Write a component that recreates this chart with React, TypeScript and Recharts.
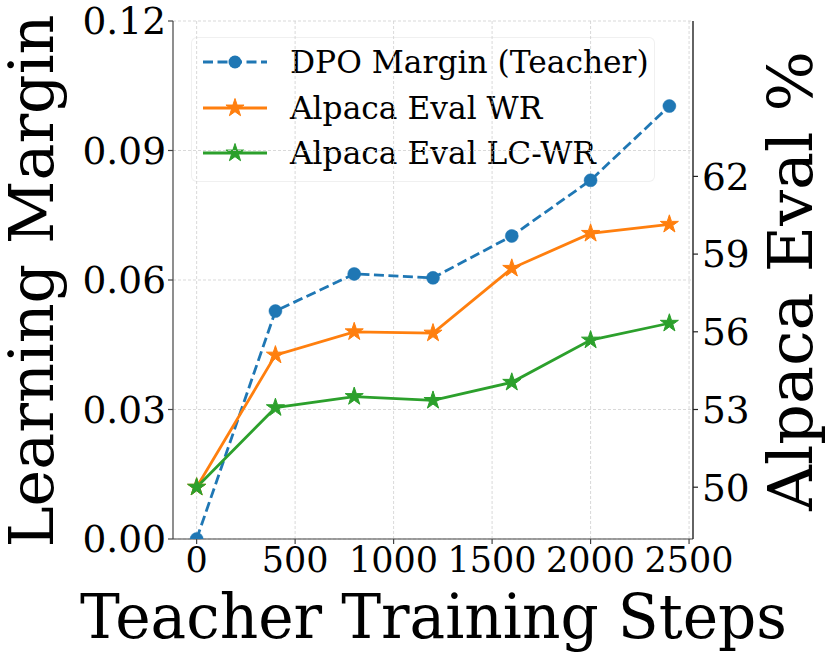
import React from 'react';
import { ComposedChart, Line, XAxis, YAxis, CartesianGrid, Legend } from 'recharts';

const steps = [0, 400, 800, 1200, 1600, 2000, 2400];
const dpoMargin = [0.0, 0.0528, 0.0614, 0.0605, 0.0702, 0.0831, 0.1003];
const alpacaWR = [50.0, 55.1, 56.0, 55.95, 58.45, 59.8, 60.15];
const alpacaLCWR = [50.0, 53.07, 53.5, 53.35, 54.05, 55.68, 56.33];

const xTicks = [0, 500, 1000, 1500, 2000, 2500];
const leftTicks = [0, 0.03, 0.06, 0.09, 0.12];
const rightTicks = [50, 53, 56, 59, 62];

const seriesNames = ['DPO Margin (Teacher)', 'Alpaca Eval WR', 'Alpaca Eval LC-WR'];
const colors = ['#1f77b4', '#ff7f0e', '#2ca02c'];

const data = steps.map((s, i) => ({
  step: s,
  dpo: dpoMargin[i],
  wr: alpacaWR[i],
  lc: alpacaLCWR[i],
}));

const FONT = 'DejaVu Serif';

function starPath(cx: number, cy: number, R: number) {
  const r = R * 0.381966;
  let d = '';
  for (let k = 0; k < 10; k++) {
    const rad = k % 2 === 0 ? R : r;
    const a = -Math.PI / 2 + (k * Math.PI) / 5;
    const x = cx + rad * Math.cos(a);
    const y = cy + rad * Math.sin(a);
    d += (k === 0 ? 'M' : 'L') + x.toFixed(2) + ',' + y.toFixed(2);
  }
  return d + 'Z';
}

const makeStar = (color: string) => (props: any) => {
  const { cx, cy, index } = props;
  if (cx == null || cy == null) return <g key={`s-${index}`} />;
  return <path key={`s-${index}`} d={starPath(cx, cy, 9.5)} fill={color} stroke={color} strokeWidth={1} />;
};

const makeCircle = (color: string) => (props: any) => {
  const { cx, cy, index } = props;
  if (cx == null || cy == null) return <g key={`c-${index}`} />;
  return <circle key={`c-${index}`} cx={cx} cy={cy} r={6.5} fill={color} stroke={color} strokeWidth={0.5} />;
};

const renderLegend = () => (
  <div
    style={{
      width: 464,
      height: 145,
      boxSizing: 'border-box',
      border: '1px solid rgba(0,0,0,0.06)',
      borderRadius: 6,
      background: '#fff',
      position: 'relative',
    }}
  >
    {seriesNames.map((name, i) => {
      const cy = [24, 70, 115][i];
      return (
        <div key={name} style={{ position: 'absolute', left: 0, top: cy - 22, height: 44, width: 464 }}>
          <svg width={90} height={44} style={{ position: 'absolute', left: 0, top: 0 }}>
            <line
              x1={11}
              x2={75}
              y1={22}
              y2={22}
              stroke={colors[i]}
              strokeWidth={2.8}
              strokeDasharray={i === 0 ? '10 4.5' : undefined}
            />
            {i === 0 ? (
              <circle cx={43} cy={22} r={6.5} fill={colors[i]} />
            ) : (
              <path d={starPath(43, 22, 9.5)} fill={colors[i]} stroke={colors[i]} strokeWidth={1} />
            )}
          </svg>
          <span
            style={{
              position: 'absolute',
              left: 98,
              top: 0,
              lineHeight: '44px',
              fontFamily: FONT,
              fontSize: 31.3,
              color: '#000',
              whiteSpace: 'nowrap',
            }}
          >
            {name}
          </span>
        </div>
      );
    })}
  </div>
);

const xTickStyle = { fontFamily: FONT, fontSize: 35, fill: '#000' };
const yTickStyle = { fontFamily: FONT, fontSize: 37.5, fill: '#000' };
const spine = '#444';

export default function App() {
  return (
    <div style={{ position: 'absolute', left: 0, top: 0, width: 831, height: 658, background: '#fff', zIndex: 0 }}>
      <ComposedChart width={831} height={658} data={data} margin={{ top: 21, right: 0, left: 0, bottom: 0 }}>
        <CartesianGrid
          xAxisId="bottom"
          yAxisId="left"
          stroke="#cfcfcf"
          strokeDasharray="3 2"
          strokeWidth={0.8}
          verticalValues={xTicks}
        />
        <XAxis
          xAxisId="bottom"
          dataKey="step"
          type="number"
          domain={[-120, 2520]}
          ticks={xTicks}
          allowDataOverflow
          height={119}
          tick={xTickStyle}
          tickSize={5}
          tickMargin={3}
          axisLine={{ stroke: spine, strokeWidth: 1.2 }}
          tickLine={{ stroke: spine, strokeWidth: 1.2 }}
          interval={0}
          label={{
            content: () => (
              <text
                x={433.5}
                y={638}
                textAnchor="middle"
                fontFamily={FONT}
                fontSize={62}
                fill="#000"
                textLength={707}
                lengthAdjust="spacingAndGlyphs"
              >
                Teacher Training Steps
              </text>
            ),
          }}
        />
        <XAxis
          xAxisId="top"
          orientation="top"
          dataKey="step"
          type="number"
          domain={[-120, 2520]}
          height={0}
          tick={false}
          tickLine={false}
          axisLine={{ stroke: spine, strokeWidth: 1.2 }}
        />
        <YAxis
          yAxisId="left"
          type="number"
          domain={[0, 0.12]}
          ticks={leftTicks}
          allowDataOverflow
          width={173}
          tick={yTickStyle}
          tickSize={5}
          tickMargin={2}
          interval={0}
          tickFormatter={(v: number) => v.toFixed(2)}
          axisLine={{ stroke: spine, strokeWidth: 1.2 }}
          tickLine={{ stroke: spine, strokeWidth: 1.2 }}
          label={{
            content: () => (
              <text
                x={53}
                y={281}
                transform="rotate(-90, 53, 281)"
                textAnchor="middle"
                fontFamily={FONT}
                fontSize={62}
                fill="#000"
              >
                Learning Margin
              </text>
            ),
          }}
        />
        <YAxis
          yAxisId="right"
          orientation="right"
          type="number"
          domain={[48, 68]}
          ticks={rightTicks}
          allowDataOverflow
          width={138}
          tick={yTickStyle}
          tickSize={5}
          tickMargin={4}
          interval={0}
          axisLine={{ stroke: '#222', strokeWidth: 1.4 }}
          tickLine={{ stroke: '#222', strokeWidth: 1.2 }}
          label={{
            content: () => (
              <text
                x={812}
                y={281}
                transform="rotate(-90, 812, 281)"
                textAnchor="middle"
                fontFamily={FONT}
                fontSize={62}
                fill="#000"
                textLength={460}
                lengthAdjust="spacingAndGlyphs"
              >
                Alpaca Eval %
              </text>
            ),
          }}
        />
        <Line
          xAxisId="bottom"
          yAxisId="left"
          dataKey="dpo"
          name={seriesNames[0]}
          stroke={colors[0]}
          strokeWidth={2.8}
          strokeDasharray="10 4.5"
          dot={makeCircle(colors[0])}
          activeDot={false}
          isAnimationActive={false}
          type="linear"
        />
        <Line
          xAxisId="bottom"
          yAxisId="right"
          dataKey="wr"
          name={seriesNames[1]}
          stroke={colors[1]}
          strokeWidth={2.8}
          dot={makeStar(colors[1])}
          activeDot={false}
          isAnimationActive={false}
          type="linear"
        />
        <Line
          xAxisId="bottom"
          yAxisId="right"
          dataKey="lc"
          name={seriesNames[2]}
          stroke={colors[2]}
          strokeWidth={2.8}
          dot={makeStar(colors[2])}
          activeDot={false}
          isAnimationActive={false}
          type="linear"
        />
        <Legend
          layout="vertical"
          align="center"
          verticalAlign="middle"
          content={renderLegend}
          wrapperStyle={{ position: 'absolute', left: 191, top: 37, width: 464, height: 145, zIndex: -1 }}
        />
      </ComposedChart>
    </div>
  );
}
